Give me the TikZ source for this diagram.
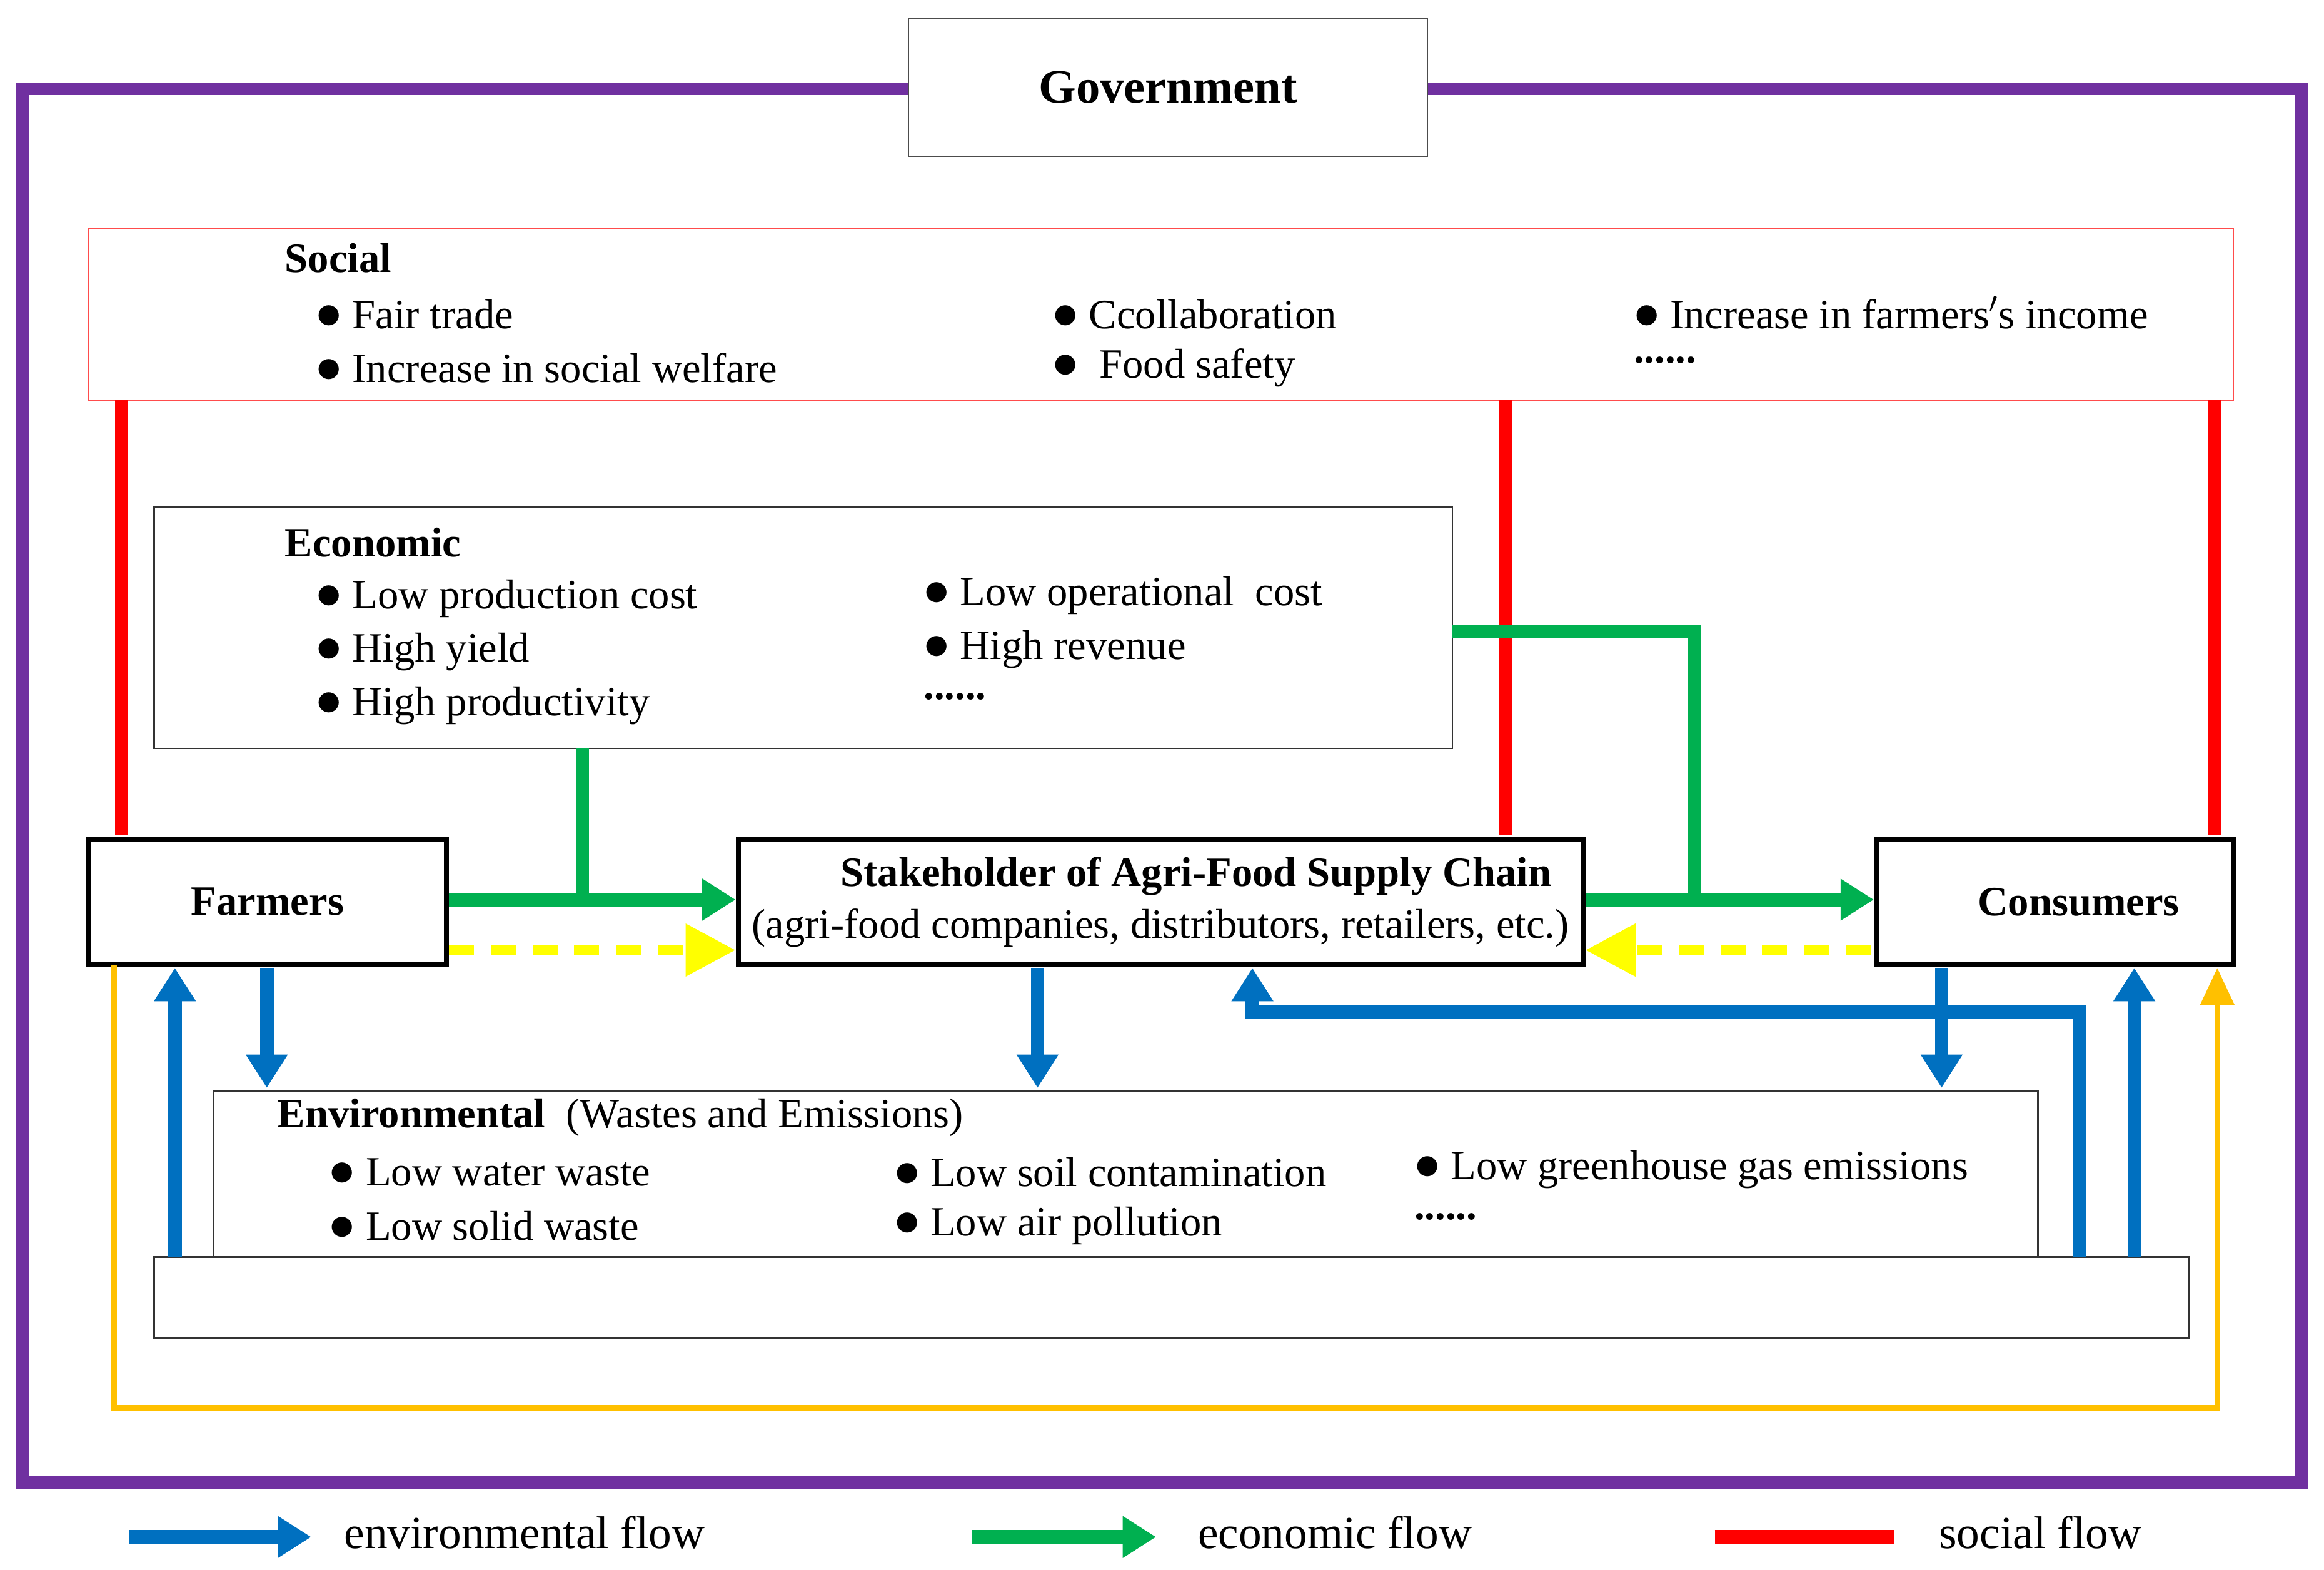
\documentclass[tikz,border=0pt]{standalone}
\usepackage{fontspec}
\setmainfont{Liberation Serif}
\usetikzlibrary{arrows.meta}
\definecolor{pur}{RGB}{112,48,160}
\definecolor{bl}{RGB}{0,112,192}
\definecolor{gr}{RGB}{0,176,80}
\definecolor{rd}{RGB}{255,0,0}
\definecolor{yl}{RGB}{255,255,0}
\definecolor{og}{RGB}{255,192,0}
\newcommand{\bul}{{\fontsize{26}{23}\selectfont$\bullet$}}
\tikzset{x=0.025cm,y=-0.025cm,
 txt/.style={anchor=west,inner sep=0,font=\fontsize{20}{24}\selectfont},
 ttl/.style={anchor=west,inner sep=0,font=\fontsize{20}{24}\selectfont\bfseries},
 thick box/.style={draw,line width=2.4pt,fill=white},
 envf/.style={draw=bl,line width=6.5pt,-{Triangle[length=16pt,width=19pt]}},
 ecof/.style={draw=gr,line width=6.5pt,-{Triangle[length=16pt,width=19pt]}},
 socf/.style={draw=rd,line width=6.5pt},
 yf/.style={draw=yl,line width=5pt,dash pattern=on 12pt off 8pt,-{Triangle[length=24pt,width=24pt]}},
}
\begin{document}
\begin{tikzpicture}
\fill[white] (0,0) rectangle (1568,1059);
\draw[pur,line width=6pt] (15,60) rectangle (1553,1000);
\node[draw=black!70,fill=white,line width=0.8pt,minimum width=350*0.025cm,minimum height=93*0.025cm,font=\fontsize{23}{28}\selectfont\bfseries] (gov) at (788,59) {Government};
% social
\node[draw=rd!70,line width=0.6pt,minimum width=1447*0.025cm,minimum height=116*0.025cm] (soc) at (783.5,212) {};
\node[ttl] (s0) at (192,174) {Social};
\node[txt] (s1) at (213,212) {\bul\ Fair trade};
\node[txt] (s2) at (213,248) {\bul\ Increase in social welfare};
\node[txt] (s3) at (710,212) {\bul\ Ccollaboration};
\node[txt] (s4) at (710,248) {\bul\ \ Food safety};
\node[txt] (s5) at (1102,211) {\bul\ Increase in farmers$'$s income};
\node[txt] (s6) at (1102,243) {\textbf{......}};
% economic
\node[draw=black!80,line width=0.8pt,minimum width=876*0.025cm,minimum height=163*0.025cm] (eco) at (542,423.5) {};
\node[ttl] (e0) at (192,366) {Economic};
\node[txt] (e1) at (213,404) {\bul\ Low production cost};
\node[txt] (e2) at (213,440) {\bul\ High yield};
\node[txt] (e3) at (213,476) {\bul\ High productivity};
\node[txt] (e4) at (623,402) {\bul\ Low operational\ \ cost};
\node[txt] (e5) at (623,438) {\bul\ High revenue};
\node[txt] (e6) at (623,470) {\textbf{......}};
% environmental
\node[draw=black!80,line width=0.8pt,minimum width=1373*0.025cm,minimum height=55*0.025cm] (bot) at (790.5,875.5) {};
\node[draw=black!80,line width=0.8pt,minimum width=1231*0.025cm,minimum height=112*0.025cm] (env) at (759.5,792) {};
\node[txt] (v0) at (187,754) {\textbf{Environmental}\ \ (Wastes and Emissions)};
\node[txt] (v1) at (222,791) {\bul\ Low water waste};
\node[txt] (v2) at (222,827) {\bul\ Low solid waste};
\node[txt] (v3) at (603,791) {\bul\ Low soil contamination};
\node[txt] (v4) at (603,827) {\bul\ Low air pollution};
\node[txt] (v5) at (954,789) {\bul\ Low greenhouse gas emissions};
\node[txt] (v6) at (954,821) {\textbf{......}};
% actors
\node[thick box,minimum width=241*0.025cm,minimum height=85*0.025cm,font=\fontsize{20}{24}\selectfont\bfseries] (far) at (180.5,608.5) {Farmers};
\node[thick box,minimum width=570*0.025cm,minimum height=85*0.025cm,align=center,font=\fontsize{20}{25}\selectfont] (stk) at (783,608.5) {\hspace*{1.2cm}\textbf{Stakeholder of Agri-Food Supply Chain}\\(agri-food companies, distributors, retailers, etc.)};
\node[thick box,minimum width=241*0.025cm,minimum height=85*0.025cm,font=\fontsize{20}{24}\selectfont\bfseries] (con) at (1386.5,608.5) {\hspace*{0.8cm}Consumers};
% social flows
\draw[socf] (82,270) -- (82,563);
\draw[socf] (1016,270) -- (1016,563);
\draw[socf] (1494,270) -- (1494,563);
% economic flows
\draw[ecof] (far.east|-0,607) -- (stk.west|-0,607);
\draw[ecof] (stk.east|-0,607) -- (con.west|-0,607);
\draw[draw=gr,line width=6.5pt] (393,505) -- (393,607);
\draw[draw=gr,line width=6.5pt] (980,426) -- (1143,426) -- (1143,607);
% yellow
\draw[yf] (303,641) -- (stk.west|-0,641);
\draw[yf] (1262,641) -- (stk.east|-0,641);
% orange
\draw[og,line width=2.8pt,-{Triangle[length=18pt,width=16pt]}] (77,651) -- (77,950) -- (1496,950) -- (1496,653);
% environmental flows
\draw[envf] (118,848) -- (118,653);
\draw[envf] (180,653) -- (180,734);
\draw[envf] (700,653) -- (700,734);
\draw[envf] (1310,653) -- (1310,734);
\draw[envf] (1440,848) -- (1440,653);
\draw[envf] (1403,848) -- (1403,683) -- (845,683) -- (845,653);
% legend
\coordinate (l1a) at (87,1037); \coordinate (l1b) at (210,1037);
\coordinate (l2a) at (656,1037); \coordinate (l2b) at (780,1037);
\draw[envf] (l1a) -- (l1b);
\draw[ecof] (l2a) -- (l2b);
\draw[rd,line width=7pt] (1157,1037) -- (1278,1037);
\node[txt,font=\fontsize{22}{26}\selectfont] (t1) at (232,1034) {environmental flow};
\node[txt,font=\fontsize{22}{26}\selectfont] (t2) at (808,1034) {economic flow};
\node[txt,font=\fontsize{22}{26}\selectfont] (t3) at (1308,1034) {social flow};
\end{tikzpicture}
\end{document}
